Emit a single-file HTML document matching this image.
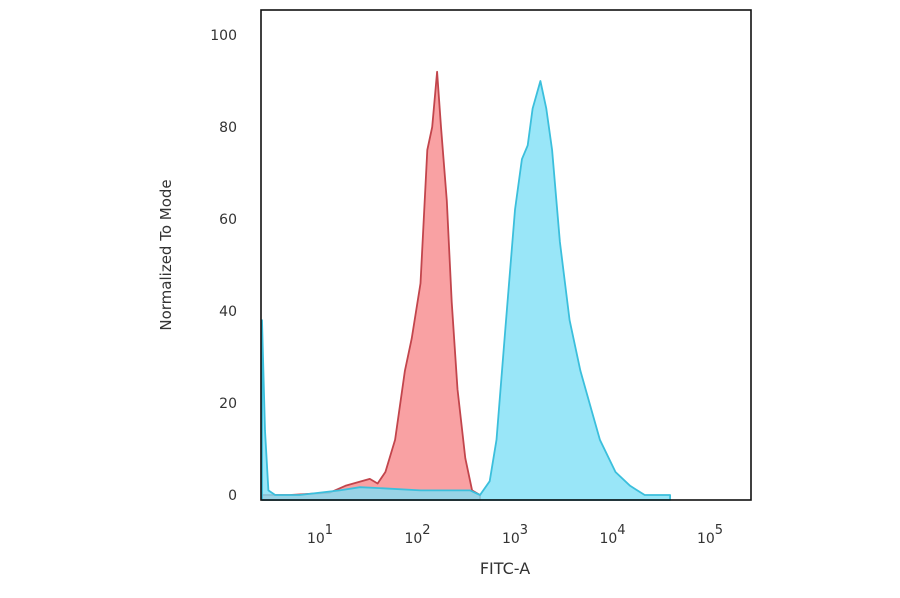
<!DOCTYPE html>
<html><head><meta charset="utf-8"><style>
body{margin:0;background:#fff;width:900px;height:594px;overflow:hidden;font-family:"DejaVu Sans",sans-serif}
svg text{font-family:"DejaVu Sans",sans-serif;fill:#333}
</style></head><body>
<svg id="chart" width="900" height="594" viewBox="0 0 900 594">
<g id="plot"></g>
<rect x="261" y="10" width="490" height="490" fill="none" stroke="#111" stroke-width="1.6"/>
<g id="yticks"></g><g id="xticks"></g>
<text transform="translate(171,255) rotate(-90)" text-anchor="middle" font-size="15">Normalized To Mode</text>
<text x="505" y="574" text-anchor="middle" font-size="16">FITC-A</text>
</svg>
<script>
const yTickValues=[0,20,40,60,80,100];
const xTickExponents=[1,2,3,4,5];
const redLog=[0.385,0.67,1.08,1.24,1.49,1.57,1.65,1.75,1.85,1.92,2.01,2.08,2.13,2.18,2.22,2.28,2.33,2.39,2.47,2.54,2.62];
const redPct=[0,0,0.5,2,3.5,2.5,5,12,27,34,46,75,80,92,80,64,42,23,8,1,0];
const blueLog=[0.385,0.415,0.45,0.52,0.77,1.18,1.39,1.59,2.01,2.52,2.62,2.72,2.79,2.88,2.98,3.05,3.11,3.16,3.24,3.30,3.36,3.44,3.54,3.65,3.77,3.85,4.01,4.16,4.31,4.57];
const bluePct=[38,14,1,0,0,1,1.7,1.5,1,1,0,3,12,36,62,73,76,84,90,84,75,55,38,27,18,12,5,2,0,0];
const NS='http://www.w3.org/2000/svg';
const xs=l=>322+(l-1)*97.5;
const ys=v=>495-4.6*v;
function area(lx,py,fill,stroke,op,name){
  let d='M'+xs(lx[0])+','+500;
  lx.forEach((l,i)=>{d+=' L'+xs(l).toFixed(1)+','+ys(py[i]).toFixed(1);});
  d+=' L'+xs(lx[lx.length-1])+',500 Z';
  const p=document.createElementNS(NS,'path');
  p.setAttribute('d',d);p.setAttribute('fill',fill);p.setAttribute('fill-opacity',op);
  p.setAttribute('stroke',stroke);p.setAttribute('stroke-width','1.8');p.setAttribute('stroke-linejoin','round');
  
  
  document.getElementById('plot').appendChild(p);
}
area(redLog,redPct,'#f9a1a3','#c2454c',1,'isotype-control-histogram');
area(blueLog,bluePct,'#7fe0f6','#3bbfdc',0.8,'antibody-stained-histogram');
const yg=document.getElementById('yticks');
yTickValues.forEach(v=>{
  const t=document.createElementNS(NS,'text');
  t.setAttribute('x','237');t.setAttribute('y',(ys(v)+5).toFixed(1));
  t.setAttribute('text-anchor','end');t.setAttribute('font-size','14');
  t.textContent=v;
  
  
  yg.appendChild(t);
});
const xg=document.getElementById('xticks');
xTickExponents.forEach(e=>{
  const t=document.createElementNS(NS,'text');
  t.setAttribute('x',(xs(e)-2).toFixed(1));t.setAttribute('y','543');
  t.setAttribute('text-anchor','middle');t.setAttribute('font-size','14');
  t.innerHTML='10<tspan dy="-9" font-size="13">'+e+'</tspan>';
  
  
  xg.appendChild(t);
});
</script>
</body></html>
